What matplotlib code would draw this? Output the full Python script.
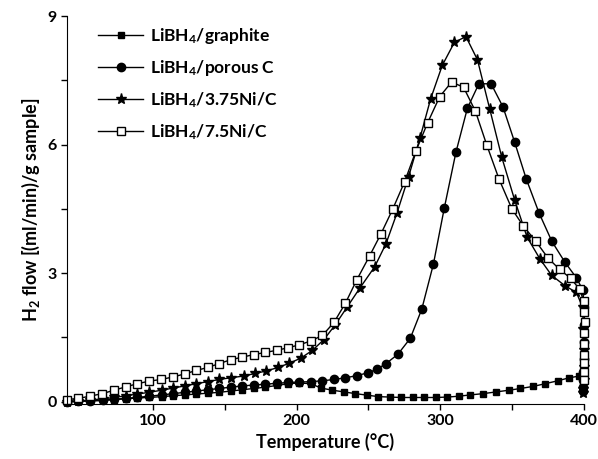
import matplotlib
matplotlib.use("Agg")
import matplotlib.pyplot as plt
from matplotlib.ticker import MultipleLocator, FixedLocator

plt.rcParams["font.family"] = ["Lato", "DejaVu Sans"]
plt.rcParams["font.weight"] = "bold"
plt.rcParams["axes.labelweight"] = "bold"
plt.rcParams["mathtext.fontset"] = "custom"
plt.rcParams["mathtext.rm"] = "Lato:bold"
plt.rcParams["mathtext.default"] = "rm"

# LiBH4/graphite
t_graphite = [40, 48, 56, 65, 73, 81, 89, 97, 106, 114, 122, 130, 138, 146, 154, 162, 170, 178, 186,
              194, 202, 210, 217, 225, 233, 241, 249, 257, 265, 273, 281, 289, 297, 305, 313, 321,
              330, 339, 348, 356, 365, 373, 382, 390, 397, 399.5]
v_graphite = [0.0, 0.01, 0.02, 0.03, 0.05, 0.07, 0.09, 0.1, 0.12, 0.14, 0.16, 0.18, 0.2, 0.22, 0.25,
              0.28, 0.31, 0.34, 0.38, 0.42, 0.44, 0.42, 0.32, 0.27, 0.23, 0.19, 0.155, 0.12, 0.11,
              0.1, 0.1, 0.1, 0.1, 0.11, 0.13, 0.16, 0.19, 0.23, 0.27, 0.31, 0.36, 0.42, 0.49, 0.56,
              0.6, 0.62]

# LiBH4/porous C
t_porous = [40, 48, 56, 65, 73, 81, 89, 97, 106, 114, 122, 130, 138, 146, 154, 162, 170, 178, 186,
            194, 202, 210, 218, 226, 234, 242, 250, 256, 262.3, 270.6, 279.2, 287.2, 295.3, 302.9,
            311, 319, 327, 335.5, 343.8, 351.9, 360, 369, 377.9, 386.9, 395, 399.5, 400.2, 400.4,
            400.3, 400, 399.8, 399.6, 399.6, 399.7]
v_porous = [0.0, 0.01, 0.02, 0.04, 0.06, 0.08, 0.1, 0.13, 0.16, 0.19, 0.22, 0.25, 0.28, 0.31, 0.34,
            0.37, 0.39, 0.41, 0.43, 0.45, 0.46, 0.47, 0.49, 0.52, 0.56, 0.61, 0.68, 0.76, 0.89,
            1.11, 1.48, 2.16, 3.21, 4.52, 5.82, 6.85, 7.42, 7.42, 6.88, 6.06, 5.2, 4.4, 3.74,
            3.26, 2.89, 2.6, 2.2, 1.8, 1.4, 1.0, 0.7, 0.5, 0.35, 0.25]

# LiBH4/3.75Ni/C
t_ni375 = [40, 48, 56, 65, 73, 81, 89, 97, 106, 114, 122, 130, 138, 146, 154, 163, 171, 179, 187,
           195, 203, 211, 219, 227, 235, 244, 254.4, 262.3, 269.9, 278, 286, 293.4, 301.5, 310,
           318, 326, 334.5, 343, 352, 360.6, 369.6, 377.7, 386.9, 395, 399.3, 399.8, 400.1,
           400.2, 400, 399.7, 399.6]
v_ni375 = [0.0, 0.02, 0.04, 0.07, 0.1, 0.14, 0.18, 0.22, 0.27, 0.32, 0.37, 0.42, 0.47, 0.52, 0.56,
           0.6, 0.66, 0.72, 0.8, 0.9, 1.02, 1.2, 1.45, 1.8, 2.2, 2.65, 3.15, 3.69, 4.4, 5.25, 6.16,
           7.07, 7.85, 8.39, 8.52, 7.98, 6.84, 5.7, 4.7, 3.84, 3.33, 2.95, 2.71, 2.55, 2.2, 1.7,
           1.2, 0.8, 0.5, 0.3, 0.2]

# LiBH4/7.5Ni/C
t_ni75 = [40, 48, 56, 64.5, 73, 81, 89, 97, 105.5, 114, 122, 130, 138, 146, 154, 162, 170, 178,
          186, 194, 202, 210, 218, 226, 234, 242, 250.8, 258.8, 266.9, 275.2, 283, 291.3, 299.7,
          308, 316.3, 324.6, 332.5, 341, 350, 358, 366.8, 375, 383.2, 391, 397.3, 400, 400.5,
          400.6, 400.4, 400.2, 400, 400.1, 400.3, 400.2]
v_ni75 = [0.05, 0.08, 0.13, 0.19, 0.27, 0.35, 0.42, 0.48, 0.52, 0.58, 0.65, 0.73, 0.8, 0.89, 0.98,
          1.04, 1.1, 1.15, 1.2, 1.26, 1.33, 1.42, 1.55, 1.85, 2.3, 2.85, 3.4, 3.92, 4.49, 5.13,
          5.84, 6.51, 7.12, 7.46, 7.34, 6.78, 5.99, 5.2, 4.5, 4.1, 3.74, 3.36, 3.09, 2.88, 2.62,
          2.35, 2.1, 1.85, 1.6, 1.35, 1.1, 0.9, 0.7, 0.5]

fig = plt.figure(figsize=(5.98, 4.59), dpi=100)
ax = fig.add_axes([0.112, 0.12, 0.864, 0.845])

ax.plot(t_graphite, v_graphite, "-s", color="black", lw=1, ms=5, mfc="black",
        label="LiBH$_4$/graphite", clip_on=False)
ax.plot(t_porous, v_porous, "-o", color="black", lw=1, ms=6, mfc="black",
        label="LiBH$_4$/porous C", clip_on=False)
ax.plot(t_ni375, v_ni375, "-*", color="black", lw=1, ms=8, mfc="black",
        label="LiBH$_4$/3.75Ni/C", clip_on=False)
ax.plot(t_ni75, v_ni75, "-s", color="black", lw=1, ms=6, mfc="white",
        label="LiBH$_4$/7.5Ni/C", clip_on=False)

ax.set_xlim(40, 400)
ax.set_ylim(-0.05, 9)
ax.xaxis.set_major_locator(FixedLocator([100, 200, 300, 400]))
ax.xaxis.set_minor_locator(FixedLocator([150, 250, 350]))
ax.yaxis.set_major_locator(MultipleLocator(3))
ax.yaxis.set_minor_locator(MultipleLocator(1.5))
ax.tick_params(which="both", direction="out", length=4, width=1, labelsize=11.5)
for lbl in ax.get_xticklabels() + ax.get_yticklabels():
    lbl.set_fontweight("bold")
ax.spines["top"].set_visible(False)
ax.spines["right"].set_visible(False)

ax.set_xlabel("Temperature (°C)", fontsize=13, labelpad=3)
ax.set_ylabel("H$_2$ flow [(ml/min)/g sample]", fontsize=13)

ax.legend(loc="upper left", bbox_to_anchor=(0.03, 1.015), frameon=False, fontsize=12.5,
          handlelength=2.6, handletextpad=0.4, labelspacing=0.7)

fig.savefig("out.png", dpi=100)
